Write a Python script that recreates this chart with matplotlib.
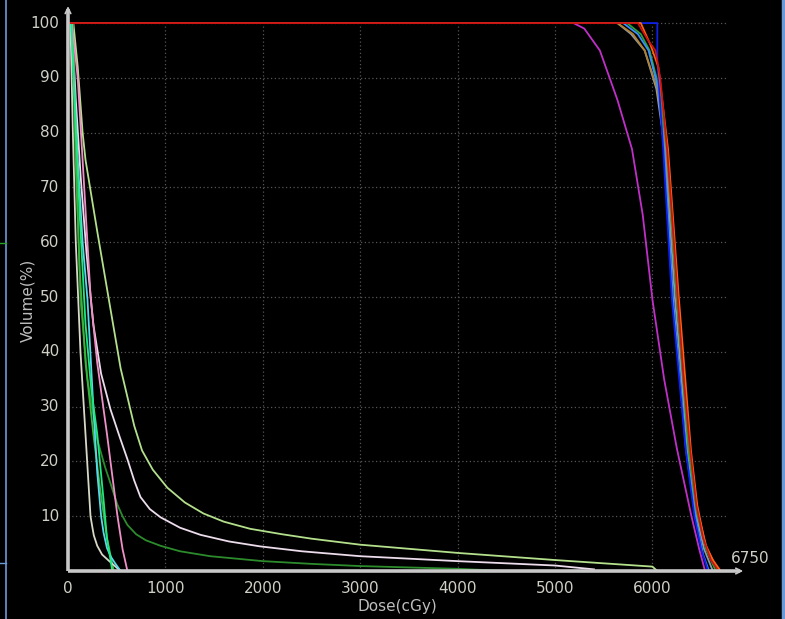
import matplotlib
matplotlib.use('Agg')
import matplotlib.pyplot as plt
import numpy as np

# dose (cGy) / volume (%)
# low dose structures
light_green_d = [0, 55, 100, 150, 180, 300, 415, 540, 620, 680, 760, 870, 1020, 1200, 1390, 1600, 1870, 2200, 2500, 3000, 4000, 5000, 6000, 6050]
light_green_v = [100, 100, 92, 80, 75, 62, 50, 37, 31, 26.5, 22, 18.5, 15.2, 12.5, 10.5, 9.0, 7.7, 6.7, 5.9, 4.8, 3.3, 2.0, 0.8, 0]

white_d = [0, 40, 80, 130, 190, 260, 340, 436, 530, 610, 680, 744, 840, 950, 1150, 1360, 1650, 1970, 2400, 3000, 4000, 5000, 5400]
white_v = [100, 100, 86, 72, 58, 45, 36, 29.5, 24.5, 20.4, 16.5, 13.5, 11.3, 9.8, 7.9, 6.6, 5.4, 4.5, 3.6, 2.7, 1.8, 1.0, 0.3]

dark_green_d = [0, 50, 80, 128, 200, 300, 380, 436, 505, 560, 610, 700, 800, 950, 1150, 1460, 2000, 2500, 3000, 4000, 4500]
dark_green_v = [100, 100, 75, 49.5, 35, 24, 19, 16, 12.2, 10, 8.4, 6.7, 5.6, 4.6, 3.6, 2.7, 1.8, 1.3, 0.9, 0.4, 0]

pink_d = [0, 40, 100, 150, 232, 300, 400, 508, 560, 610]
pink_v = [100, 100, 90, 75, 50, 38, 25, 10, 4, 0]

cyan_d = [0, 30, 60, 100, 150, 200, 260, 300, 340, 365, 400, 440, 480, 540]
cyan_v = [100, 100, 90, 75, 60, 49.5, 30, 18, 10, 7, 4.2, 2.6, 1.5, 0]

spring_d = [0, 35, 70, 120, 180, 240, 300, 365, 400, 455]
spring_v = [100, 100, 85, 65, 45, 33, 25, 13, 6, 0]

gray_d = [0, 25, 50, 80, 128, 200, 231, 250, 265, 300, 350, 436, 540]
gray_v = [100, 100, 80, 60, 40, 19, 10, 8, 6.5, 4.6, 3.0, 1.6, 0]

mid_green_d = [0, 45, 80, 120, 180, 260, 330, 400, 470]
mid_green_v = [100, 100, 75, 55, 38, 25, 15, 6, 0]

# high dose structures
purple_d = [0, 5190, 5300, 5460, 5640, 5790, 5900, 6000, 6120, 6250, 6400, 6480, 6540]
purple_v = [100, 100, 99, 95, 86, 77, 65, 49.5, 35, 22.4, 10, 4, 0]

gray_blue_d = [0, 5640, 5780, 5920, 6040, 6130, 6230, 6360, 6440, 6530, 6620]
gray_blue_v = [100, 100, 98, 95, 88, 77, 50, 22, 11, 4, 0]

brown_d = [0, 5640, 5800, 5920, 6050, 6140, 6250, 6380, 6460, 6560, 6680]
brown_v = [100, 100, 98, 95, 88, 77, 50, 22, 11, 4, 0]

green_d = [0, 5740, 5880, 5970, 6070, 6150, 6250, 6370, 6450, 6550, 6650]
green_v = [100, 100, 98, 95, 88, 77, 50, 22, 11, 4, 0]

light_blue_d = [0, 5700, 5850, 5960, 6060, 6120, 6210, 6345, 6440, 6520, 6580]
light_blue_v = [100, 100, 98, 95, 88, 77, 50, 22, 10, 3, 0]

blue_d = [0, 6050, 6050, 6110, 6200, 6340, 6430, 6500, 6570]
blue_v = [100, 100, 93, 77, 49.5, 22.4, 10, 4, 0]

orange_d = [0, 5880, 5980, 6060, 6160, 6270, 6395, 6460, 6540, 6620, 6700]
orange_v = [100, 100, 96, 92, 77, 50, 22, 12, 5, 2, 0]

red_d = [0, 5850, 5950, 6030, 6080, 6150, 6200, 6260, 6320, 6385, 6450, 6520, 6600, 6680]
red_v = [100, 100, 97, 95, 90, 77, 65, 49.5, 35, 22.4, 12, 6, 2, 0]

x_ticks = [0, 1000, 2000, 3000, 4000, 5000, 6000]
y_ticks = [10, 20, 30, 40, 50, 60, 70, 80, 90, 100]

fig = plt.figure(figsize=(7.85, 6.19), dpi=100, facecolor='black')
ax = fig.add_axes([68 / 785, 48 / 619, 677 / 785, 566 / 619])
ax.set_facecolor('black')
ax.set_xlim(0, 6950)
ax.set_ylim(0, 103.3)
for s in ax.spines.values():
    s.set_visible(False)
ax.set_xticks([])
ax.set_yticks([])

# grid
grid_col = '#555555'
ax.hlines(y_ticks, 0, 6750, colors=grid_col, linestyles=(0, (1, 2)), lw=0.9)
ax.vlines(x_ticks[1:], 0, 100, colors=grid_col, linestyles=(0, (1, 2)), lw=0.9)

lw = 1.3
curves = [
    (light_green_d, light_green_v, '#b4e08c'),
    (white_d, white_v, '#ecdcec'),
    (dark_green_d, dark_green_v, '#2c8c2c'),
    (mid_green_d, mid_green_v, '#3cb43c'),
    (pink_d, pink_v, '#f090c8'),
    (gray_d, gray_v, '#d8d8c8'),
    (cyan_d, cyan_v, '#58d8ec'),
    (spring_d, spring_v, '#20e880'),
    (purple_d, purple_v, '#c030c8'),
    (gray_blue_d, gray_blue_v, '#8c9cac'),
    (brown_d, brown_v, '#b08030'),
    (green_d, green_v, '#30a030'),
    (light_blue_d, light_blue_v, '#3890ff'),
    (blue_d, blue_v, '#1020e8'),
    (orange_d, orange_v, '#ff6410'),
    (red_d, red_v, '#c81414'),
]
for d, v, c in curves:
    ax.plot(d, v, color=c, lw=lw, solid_joinstyle='round')

# axes with arrows
axis_col = '#c8c8c8'
ax.plot([0, 0], [0, 102.5], color=axis_col, lw=2.6, clip_on=False, solid_capstyle='butt')
ax.plot([0, 6900], [0, 0], color=axis_col, lw=2.6, clip_on=False, solid_capstyle='butt')
ax.annotate('', xy=(0, 103.6), xytext=(0, 100.5),
            arrowprops=dict(arrowstyle='->', color=axis_col, lw=1.2), annotation_clip=False)
ax.annotate('', xy=(6960, 0), xytext=(6700, 0),
            arrowprops=dict(arrowstyle='->', color=axis_col, lw=1.2), annotation_clip=False)

lab_col = '#cfcfc6'
for t in y_ticks:
    ax.text(-90, t, str(t), color=lab_col, fontsize=11, ha='right', va='center')
for t in x_ticks:
    ax.text(t, -1.8, str(t), color=lab_col, fontsize=11, ha='center', va='top')
ax.text(6810, 1.0, '6750', color=lab_col, fontsize=11, ha='left', va='bottom')

fig.text(28 / 785, 1 - 300 / 619, 'Volume(%)', color='#bdbdbd', fontsize=11,
         rotation=90, ha='center', va='center')
fig.text(397 / 785, 1 - 607 / 619, 'Dose(cGy)', color='#bdbdbd', fontsize=11,
         ha='center', va='center')

# window frame bits
fig.add_artist(plt.Line2D([6 / 785, 6 / 785], [0, 1], color='#6a9ad8', lw=1.2))
fig.add_artist(plt.Line2D([783 / 785, 783 / 785], [0, 1], color='#6a9ad8', lw=2.5))
fig.add_artist(plt.Line2D([0, 6 / 785], [1 - 243 / 619, 1 - 243 / 619], color='#2ca02c', lw=1))
fig.add_artist(plt.Line2D([0, 6 / 785], [1 - 563 / 619, 1 - 563 / 619], color='#6a9ad8', lw=1))

fig.savefig('out.png', dpi=100, facecolor='black')
